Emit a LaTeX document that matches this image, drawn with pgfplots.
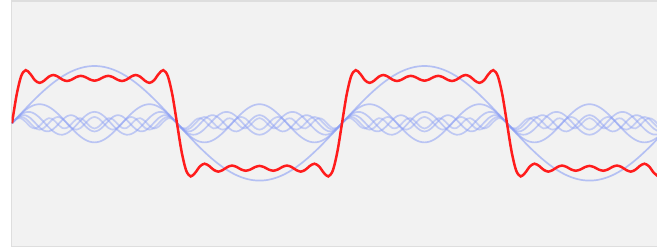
\documentclass[border=0pt]{standalone}
\usepackage{pgfplots}
\usepackage{pgfplotstable}
\pgfplotsset{compat=1.18}
\definecolor{bgc}{RGB}{242,242,242}
\definecolor{bordc}{RGB}{222,222,222}
\definecolor{harm}{RGB}{140,160,245}
\definecolor{sumc}{RGB}{255,28,28}
\pgfplotstableread{
x h1 h3 h5 h7 h9 h11 s
0 0 0 0 0 0 0 0
5 0.1110 0.1098 0.1076 0.1043 0.1001 0.0948 0.6276
10 0.2210 0.2122 0.1950 0.1709 0.1415 0.1087 1.0493
15 0.3295 0.3001 0.2459 0.1757 0.1001 0.0299 1.1812
20 0.4354 0.3675 0.2507 0.1169 0 -0.0744 1.0961
25 0.5381 0.4099 0.2086 0.0159 -0.1001 -0.1153 0.9571
30 0.6366 0.4244 0.1273 -0.0910 -0.1415 -0.0579 0.8979
35 0.7303 0.4099 0.0222 -0.1649 -0.1001 0.0489 0.9463
40 0.8184 0.3675 -0.0871 -0.1791 0 0.1139 1.0336
45 0.9003 0.3001 -0.1800 -0.1286 0.1001 0.0818 1.0737
50 0.9753 0.2122 -0.2392 -0.0316 0.1415 -0.0201 1.0381
55 1.0430 0.1098 -0.2536 0.0769 0.1001 -0.1049 0.9713
60 1.1026 0 -0.2205 0.1575 0 -0.1002 0.9394
65 1.1539 -0.1098 -0.1460 0.1812 -0.1001 -0.0101 0.9691
70 1.1964 -0.2122 -0.0442 0.1393 -0.1415 0.0886 1.0264
75 1.2298 -0.3001 0.0659 0.0471 -0.1001 0.1118 1.0544
80 1.2539 -0.3675 0.1637 -0.0622 0 0.0396 1.0275
85 1.2684 -0.4099 0.2307 -0.1490 0.1001 -0.0664 0.9739
90 1.2732 -0.4244 0.2546 -0.1819 0.1415 -0.1157 0.9473
95 1.2684 -0.4099 0.2307 -0.1490 0.1001 -0.0664 0.9739
100 1.2539 -0.3675 0.1637 -0.0622 0 0.0396 1.0275
105 1.2298 -0.3001 0.0659 0.0471 -0.1001 0.1118 1.0544
110 1.1964 -0.2122 -0.0442 0.1393 -0.1415 0.0886 1.0264
115 1.1539 -0.1098 -0.1460 0.1812 -0.1001 -0.0101 0.9691
120 1.1026 0 -0.2205 0.1575 0 -0.1002 0.9394
125 1.0430 0.1098 -0.2536 0.0769 0.1001 -0.1049 0.9713
130 0.9753 0.2122 -0.2392 -0.0316 0.1415 -0.0201 1.0381
135 0.9003 0.3001 -0.1800 -0.1286 0.1001 0.0818 1.0737
140 0.8184 0.3675 -0.0871 -0.1791 0 0.1139 1.0336
145 0.7303 0.4099 0.0222 -0.1649 -0.1001 0.0489 0.9463
150 0.6366 0.4244 0.1273 -0.0910 -0.1415 -0.0579 0.8979
155 0.5381 0.4099 0.2086 0.0159 -0.1001 -0.1153 0.9571
160 0.4354 0.3675 0.2507 0.1169 0 -0.0744 1.0961
165 0.3295 0.3001 0.2459 0.1757 0.1001 0.0299 1.1812
170 0.2210 0.2122 0.1950 0.1709 0.1415 0.1087 1.0493
175 0.1110 0.1098 0.1076 0.1043 0.1001 0.0948 0.6276
180 0 0 0 0 0 0 0
185 -0.1110 -0.1098 -0.1076 -0.1043 -0.1001 -0.0948 -0.6276
190 -0.2210 -0.2122 -0.1950 -0.1709 -0.1415 -0.1087 -1.0493
195 -0.3295 -0.3001 -0.2459 -0.1757 -0.1001 -0.0299 -1.1812
200 -0.4354 -0.3675 -0.2507 -0.1169 0 0.0744 -1.0961
205 -0.5381 -0.4099 -0.2086 -0.0159 0.1001 0.1153 -0.9571
210 -0.6366 -0.4244 -0.1273 0.0910 0.1415 0.0579 -0.8979
215 -0.7303 -0.4099 -0.0222 0.1649 0.1001 -0.0489 -0.9463
220 -0.8184 -0.3675 0.0871 0.1791 0 -0.1139 -1.0336
225 -0.9003 -0.3001 0.1800 0.1286 -0.1001 -0.0818 -1.0737
230 -0.9753 -0.2122 0.2392 0.0316 -0.1415 0.0201 -1.0381
235 -1.0430 -0.1098 0.2536 -0.0769 -0.1001 0.1049 -0.9713
240 -1.1026 0 0.2205 -0.1575 0 0.1002 -0.9394
245 -1.1539 0.1098 0.1460 -0.1812 0.1001 0.0101 -0.9691
250 -1.1964 0.2122 0.0442 -0.1393 0.1415 -0.0886 -1.0264
255 -1.2298 0.3001 -0.0659 -0.0471 0.1001 -0.1118 -1.0544
260 -1.2539 0.3675 -0.1637 0.0622 0 -0.0396 -1.0275
265 -1.2684 0.4099 -0.2307 0.1490 -0.1001 0.0664 -0.9739
270 -1.2732 0.4244 -0.2546 0.1819 -0.1415 0.1157 -0.9473
275 -1.2684 0.4099 -0.2307 0.1490 -0.1001 0.0664 -0.9739
280 -1.2539 0.3675 -0.1637 0.0622 0 -0.0396 -1.0275
285 -1.2298 0.3001 -0.0659 -0.0471 0.1001 -0.1118 -1.0544
290 -1.1964 0.2122 0.0442 -0.1393 0.1415 -0.0886 -1.0264
295 -1.1539 0.1098 0.1460 -0.1812 0.1001 0.0101 -0.9691
300 -1.1026 0 0.2205 -0.1575 0 0.1002 -0.9394
305 -1.0430 -0.1098 0.2536 -0.0769 -0.1001 0.1049 -0.9713
310 -0.9753 -0.2122 0.2392 0.0316 -0.1415 0.0201 -1.0381
315 -0.9003 -0.3001 0.1800 0.1286 -0.1001 -0.0818 -1.0737
320 -0.8184 -0.3675 0.0871 0.1791 0 -0.1139 -1.0336
325 -0.7303 -0.4099 -0.0222 0.1649 0.1001 -0.0489 -0.9463
330 -0.6366 -0.4244 -0.1273 0.0910 0.1415 0.0579 -0.8979
335 -0.5381 -0.4099 -0.2086 -0.0159 0.1001 0.1153 -0.9571
340 -0.4354 -0.3675 -0.2507 -0.1169 0 0.0744 -1.0961
345 -0.3295 -0.3001 -0.2459 -0.1757 -0.1001 -0.0299 -1.1812
350 -0.2210 -0.2122 -0.1950 -0.1709 -0.1415 -0.1087 -1.0493
355 -0.1110 -0.1098 -0.1076 -0.1043 -0.1001 -0.0948 -0.6276
360 0 0 0 0 0 0 0
365 0.1110 0.1098 0.1076 0.1043 0.1001 0.0948 0.6276
370 0.2210 0.2122 0.1950 0.1709 0.1415 0.1087 1.0493
375 0.3295 0.3001 0.2459 0.1757 0.1001 0.0299 1.1812
380 0.4354 0.3675 0.2507 0.1169 0 -0.0744 1.0961
385 0.5381 0.4099 0.2086 0.0159 -0.1001 -0.1153 0.9571
390 0.6366 0.4244 0.1273 -0.0910 -0.1415 -0.0579 0.8979
395 0.7303 0.4099 0.0222 -0.1649 -0.1001 0.0489 0.9463
400 0.8184 0.3675 -0.0871 -0.1791 0 0.1139 1.0336
405 0.9003 0.3001 -0.1800 -0.1286 0.1001 0.0818 1.0737
410 0.9753 0.2122 -0.2392 -0.0316 0.1415 -0.0201 1.0381
415 1.0430 0.1098 -0.2536 0.0769 0.1001 -0.1049 0.9713
420 1.1026 0 -0.2205 0.1575 0 -0.1002 0.9394
425 1.1539 -0.1098 -0.1460 0.1812 -0.1001 -0.0101 0.9691
430 1.1964 -0.2122 -0.0442 0.1393 -0.1415 0.0886 1.0264
435 1.2298 -0.3001 0.0659 0.0471 -0.1001 0.1118 1.0544
440 1.2539 -0.3675 0.1637 -0.0622 0 0.0396 1.0275
445 1.2684 -0.4099 0.2307 -0.1490 0.1001 -0.0664 0.9739
450 1.2732 -0.4244 0.2546 -0.1819 0.1415 -0.1157 0.9473
455 1.2684 -0.4099 0.2307 -0.1490 0.1001 -0.0664 0.9739
460 1.2539 -0.3675 0.1637 -0.0622 0 0.0396 1.0275
465 1.2298 -0.3001 0.0659 0.0471 -0.1001 0.1118 1.0544
470 1.1964 -0.2122 -0.0442 0.1393 -0.1415 0.0886 1.0264
475 1.1539 -0.1098 -0.1460 0.1812 -0.1001 -0.0101 0.9691
480 1.1026 0 -0.2205 0.1575 0 -0.1002 0.9394
485 1.0430 0.1098 -0.2536 0.0769 0.1001 -0.1049 0.9713
490 0.9753 0.2122 -0.2392 -0.0316 0.1415 -0.0201 1.0381
495 0.9003 0.3001 -0.1800 -0.1286 0.1001 0.0818 1.0737
500 0.8184 0.3675 -0.0871 -0.1791 0 0.1139 1.0336
505 0.7303 0.4099 0.0222 -0.1649 -0.1001 0.0489 0.9463
510 0.6366 0.4244 0.1273 -0.0910 -0.1415 -0.0579 0.8979
515 0.5381 0.4099 0.2086 0.0159 -0.1001 -0.1153 0.9571
520 0.4354 0.3675 0.2507 0.1169 0 -0.0744 1.0961
525 0.3295 0.3001 0.2459 0.1757 0.1001 0.0299 1.1812
530 0.2210 0.2122 0.1950 0.1709 0.1415 0.1087 1.0493
535 0.1110 0.1098 0.1076 0.1043 0.1001 0.0948 0.6276
540 0 0 0 0 0 0 0
545 -0.1110 -0.1098 -0.1076 -0.1043 -0.1001 -0.0948 -0.6276
550 -0.2210 -0.2122 -0.1950 -0.1709 -0.1415 -0.1087 -1.0493
555 -0.3295 -0.3001 -0.2459 -0.1757 -0.1001 -0.0299 -1.1812
560 -0.4354 -0.3675 -0.2507 -0.1169 0 0.0744 -1.0961
565 -0.5381 -0.4099 -0.2086 -0.0159 0.1001 0.1153 -0.9571
570 -0.6366 -0.4244 -0.1273 0.0910 0.1415 0.0579 -0.8979
575 -0.7303 -0.4099 -0.0222 0.1649 0.1001 -0.0489 -0.9463
580 -0.8184 -0.3675 0.0871 0.1791 0 -0.1139 -1.0336
585 -0.9003 -0.3001 0.1800 0.1286 -0.1001 -0.0818 -1.0737
590 -0.9753 -0.2122 0.2392 0.0316 -0.1415 0.0201 -1.0381
595 -1.0430 -0.1098 0.2536 -0.0769 -0.1001 0.1049 -0.9713
600 -1.1026 0 0.2205 -0.1575 0 0.1002 -0.9394
605 -1.1539 0.1098 0.1460 -0.1812 0.1001 0.0101 -0.9691
610 -1.1964 0.2122 0.0442 -0.1393 0.1415 -0.0886 -1.0264
615 -1.2298 0.3001 -0.0659 -0.0471 0.1001 -0.1118 -1.0544
620 -1.2539 0.3675 -0.1637 0.0622 0 -0.0396 -1.0275
625 -1.2684 0.4099 -0.2307 0.1490 -0.1001 0.0664 -0.9739
630 -1.2732 0.4244 -0.2546 0.1819 -0.1415 0.1157 -0.9473
635 -1.2684 0.4099 -0.2307 0.1490 -0.1001 0.0664 -0.9739
640 -1.2539 0.3675 -0.1637 0.0622 0 -0.0396 -1.0275
645 -1.2298 0.3001 -0.0659 -0.0471 0.1001 -0.1118 -1.0544
650 -1.1964 0.2122 0.0442 -0.1393 0.1415 -0.0886 -1.0264
655 -1.1539 0.1098 0.1460 -0.1812 0.1001 0.0101 -0.9691
660 -1.1026 0 0.2205 -0.1575 0 0.1002 -0.9394
665 -1.0430 -0.1098 0.2536 -0.0769 -0.1001 0.1049 -0.9713
670 -0.9753 -0.2122 0.2392 0.0316 -0.1415 0.0201 -1.0381
675 -0.9003 -0.3001 0.1800 0.1286 -0.1001 -0.0818 -1.0737
680 -0.8184 -0.3675 0.0871 0.1791 0 -0.1139 -1.0336
685 -0.7303 -0.4099 -0.0222 0.1649 0.1001 -0.0489 -0.9463
690 -0.6366 -0.4244 -0.1273 0.0910 0.1415 0.0579 -0.8979
695 -0.5381 -0.4099 -0.2086 -0.0159 0.1001 0.1153 -0.9571
700 -0.4354 -0.3675 -0.2507 -0.1169 0 0.0744 -1.0961
705 -0.3295 -0.3001 -0.2459 -0.1757 -0.1001 -0.0299 -1.1812
}\fourier
\begin{document}
\begin{tikzpicture}
\path[use as bounding box] (0pt,0pt) rectangle (657pt,248pt);
\clip (0pt,0pt) rectangle (657pt,248pt);
\begin{axis}[
  at={(11.7pt,1.7pt)}, anchor=south west,
  scale only axis, width=688.3pt, height=245.3pt,
  xmin=-0.327, xmax=750.55, ymin=-2.7333, ymax=2.7178,
  ticks=none,
  axis background/.style={fill=bgc},
  axis line style={draw=bordc, line width=1.3pt},
  every axis plot/.append style={smooth, no markers},
]
\addplot[harm, opacity=0.6, line width=1.7pt] table[x=x,y=h1] {\fourier};
\addplot[harm, opacity=0.55, line width=1.7pt] table[x=x,y=h3] {\fourier};
\addplot[harm, opacity=0.5, line width=1.7pt] table[x=x,y=h5] {\fourier};
\addplot[harm, opacity=0.5, line width=1.7pt] table[x=x,y=h7] {\fourier};
\addplot[harm, opacity=0.45, line width=1.7pt] table[x=x,y=h9] {\fourier};
\addplot[harm, opacity=0.45, line width=1.7pt] table[x=x,y=h11] {\fourier};
\addplot[sumc, line width=2.5pt] table[x=x,y=s] {\fourier};
\end{axis}
\end{tikzpicture}
\end{document}
